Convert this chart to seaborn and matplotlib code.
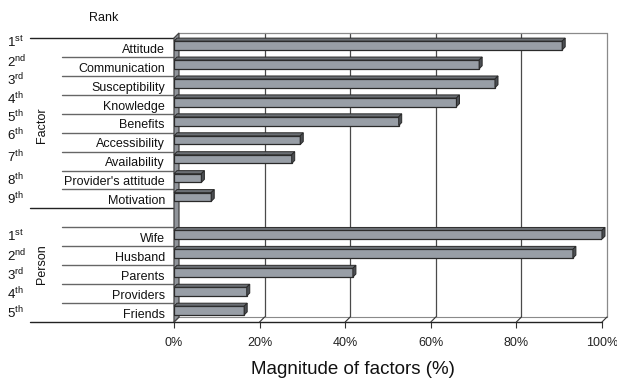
import numpy as np
import pandas as pd
import matplotlib
matplotlib.use("Agg")
import matplotlib.pyplot as plt
import seaborn as sns
from matplotlib import transforms
from matplotlib.patches import Polygon

# ---------------- data ----------------
factor_items = ["Attitude", "Communication", "Susceptibility", "Knowledge", "Benefits",
                "Accessibility", "Availability", "Provider's attitude", "Motivation"]
factor_values = [90.7, 71.3, 75.0, 66.0, 52.5, 29.5, 27.5, 6.4, 8.7]
factor_ranks = ["1st", "2nd", "3rd", "4th", "5th", "6th", "7th", "8th", "9th"]

person_items = ["Wife", "Husband", "Parents", "Providers", "Friends"]
person_values = [100.0, 93.2, 41.8, 17.0, 16.4]
person_ranks = ["1st", "2nd", "3rd", "4th", "5th"]

x_ticks = [0, 20, 40, 60, 80, 100]
x_tick_labels = ["0%", "20%", "40%", "60%", "80%", "100%"]
x_label = "Magnitude of factors (%)"
rank_title = "Rank"
group_names = ["Factor", "Person"]

# ---------------- style ----------------
sns.set_theme(style="white")
plt.rcParams["font.family"] = ["Liberation Sans", "DejaVu Sans"]
plt.rcParams["mathtext.default"] = "regular"

W, H = 617, 379
fig = plt.figure(figsize=(W / 100, H / 100), dpi=100)
L, R, T, B = 174, 602, 38, 322
ax = fig.add_axes([L / W, 1 - B / H, (R - L) / W, (B - T) / H])

gap = "_gap"
order = factor_items + [gap] + person_items
df = pd.DataFrame({"item": factor_items + person_items,
                   "value": factor_values + person_values})

bar_face = "#989ea6"
sns.barplot(data=df, x="value", y="item", order=order, color=bar_face,
            saturation=1, edgecolor="#2a2a2a", linewidth=0.9, width=0.46,
            ax=ax, zorder=4)
bars = [p for p in ax.patches if p.get_width() > 0]

n = len(order)
ax.set_xlim(0, 100)
ax.set_ylim(n - 0.5, -0.5)
ax.set_facecolor("none")
for s in ax.spines.values():
    s.set_visible(False)
ax.set_yticks([])
ax.set_ylabel("")
ax.set_xlabel("")
ax.set_xticks(x_ticks)
ax.set_xticklabels(x_tick_labels, fontsize=9, color="#222")
ax.tick_params(axis="x", length=4, width=0.8, color="#333", direction="out",
               pad=7, bottom=True)

# depth offsets (pixels)
D = 5
back = transforms.offset_copy(ax.transData, fig=fig, x=D, y=D, units="dots")
bar_tr = transforms.offset_copy(ax.transData, fig=fig, x=0, y=2, units="dots")

# back wall: gridlines, top edge, right edge
for t in x_ticks[1:-1]:
    ax.plot([t, t], [n - 0.5, -0.5], transform=back, color="#4a4a4a", lw=0.9,
            zorder=1, clip_on=False)
ax.plot([0, 100], [-0.5, -0.5], transform=back, color="#8a8a8a", lw=0.9,
        zorder=1, clip_on=False)
ax.plot([100, 100], [-0.5, n - 0.5], transform=back, color="#8a8a8a", lw=0.9,
        zorder=1, clip_on=False)
ax.plot([0, 100], [n - 0.5, n - 0.5], transform=back, color="#8a8a8a", lw=0.8,
        zorder=1, clip_on=False)

# floor: front edge + diagonal ticks
ax.plot([0, 100], [n - 0.5, n - 0.5], color="#222", lw=1.0, zorder=2,
        clip_on=False)
for t in x_ticks:
    p0 = ax.transData.transform((t, n - 0.5))
    p1 = back.transform((t, n - 0.5))
    ax.add_line(plt.Line2D([p0[0], p1[0]], [p0[1], p1[1]],
                           transform=transforms.IdentityTransform(),
                           color="#333", lw=0.8, zorder=2, clip_on=False))

# left wall
f_top = ax.transData.transform((0, -0.5))
f_bot = ax.transData.transform((0, n - 0.5))
b_top = back.transform((0, -0.5))
b_bot = back.transform((0, n - 0.5))
ax.add_patch(Polygon([f_bot, f_top, b_top, b_bot], closed=True,
                     transform=transforms.IdentityTransform(),
                     facecolor="#90949a", edgecolor="#444", lw=0.9,
                     zorder=3, clip_on=False))

# 3D faces of the bars
d = 3
for p in bars:
    p.set_transform(bar_tr)
    x0, y0 = p.get_x(), p.get_y()
    w, h = p.get_width(), p.get_height()
    ytop, ybot = min(y0, y0 + h), max(y0, y0 + h)
    A = bar_tr.transform((x0, ytop))
    Bp = bar_tr.transform((x0 + w, ytop))
    C = bar_tr.transform((x0 + w, ybot))
    off = np.array([d, d])
    ax.add_patch(Polygon([A, Bp, Bp + off, A + off], closed=True,
                         transform=transforms.IdentityTransform(),
                         facecolor="#6b6f74", edgecolor="#2a2a2a", lw=0.7,
                         zorder=4, clip_on=False))
    ax.add_patch(Polygon([Bp, C, C + off, Bp + off], closed=True,
                         transform=transforms.IdentityTransform(),
                         facecolor="#4b4e52", edgecolor="#2a2a2a", lw=0.7,
                         zorder=4, clip_on=False))

# ---------------- left table ----------------
ytr = ax.get_yaxis_transform()


def fx(px):
    return (px - L) / (R - L)


long_x0, short_x0 = fx(30), fx(62)
gap_idx = order.index(gap)
for k in range(n + 1):
    yb = k - 0.5
    if k in (0, gap_idx, n):
        ax.plot([long_x0, 0], [yb, yb], transform=ytr, color="#222", lw=1.0,
                clip_on=False, zorder=2)
    else:
        ax.plot([short_x0, 0], [yb, yb], transform=ytr, color="#666", lw=1.0,
                clip_on=False, zorder=2)

for i, name in enumerate(order):
    if name == gap:
        continue
    ax.text(fx(165), i + 0.12, name, transform=ytr, ha="right", va="center",
            fontsize=9, color="#111")

rank_px_shift = [-5, -4.5, -5, -5, -6, -7, -4, 0, 0]
for i, r in enumerate(factor_ranks):
    num, suf = r[:-2], r[-2:]
    yoff = transforms.offset_copy(ytr, fig=fig, x=0, y=-rank_px_shift[i], units="dots")
    ax.text(fx(7), i, num + "$^{" + suf + "}$", transform=yoff, ha="left",
            va="center", fontsize=9.5, color="#111")
for j, r in enumerate(person_ranks):
    num, suf = r[:-2], r[-2:]
    ax.text(fx(7), gap_idx + 1 + j, num + "$^{" + suf + "}$", transform=ytr,
            ha="left", va="center", fontsize=9.5, color="#111")

ax.text(fx(42), (len(factor_items) - 1) / 2 + 0.1, group_names[0], transform=ytr,
        rotation=90, ha="center", va="center", fontsize=9, color="#111")
ax.text(fx(42), gap_idx + 1 + (len(person_items) - 1) / 2 - 0.55, group_names[1],
        transform=ytr, rotation=90, ha="center", va="center", fontsize=9,
        color="#111")

fig.text(104 / W, 1 - 18 / H, rank_title, ha="center", va="center", fontsize=9,
         color="#111")
fig.text(353 / W, 1 - 369 / H, x_label, ha="center", va="center", fontsize=13.5,
         color="#111")

fig.savefig("out.png", dpi=100, facecolor="white")
